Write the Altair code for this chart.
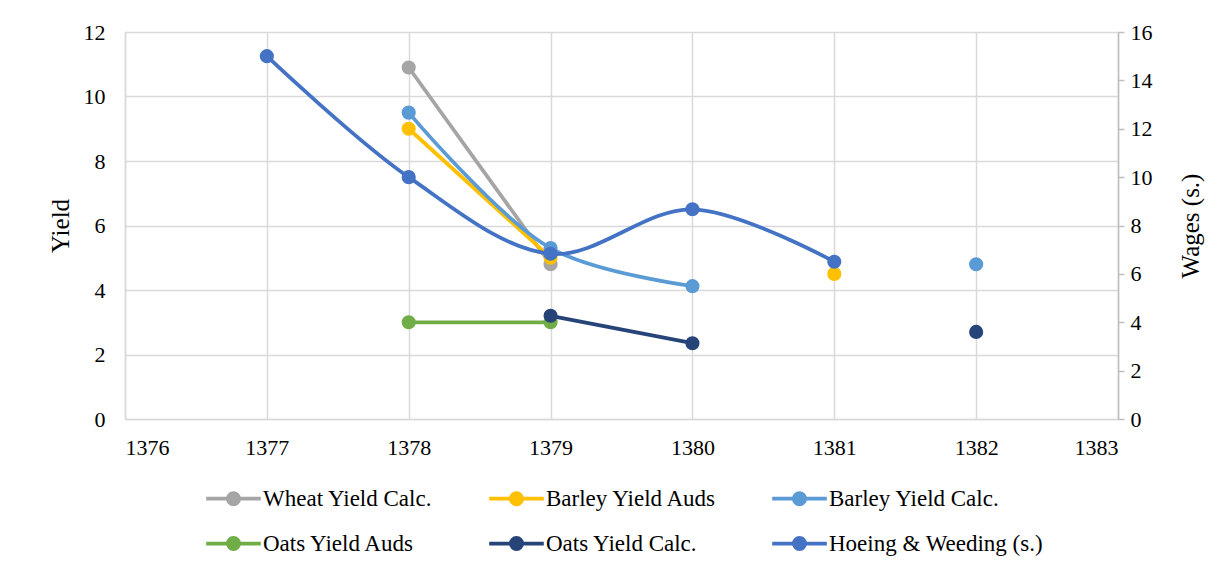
import altair as alt
import pandas as pd

years = [1377, 1378, 1379, 1380, 1381, 1382]
wheat_calc = [None, 10.9, 4.8, None, None, None]
barley_auds = [None, 9.0, 5.0, None, 4.5, None]
barley_calc = [None, 9.5, 5.3, 4.12, None, 4.8]
oats_auds = [None, 3.0, 3.0, None, None, None]
oats_calc = [None, None, 3.2, 2.35, None, 2.7]
hoeing_wages = [15.0, 10.0, 6.83, 8.67, 6.5, None]

series_names = ["Wheat Yield Calc.", "Barley Yield Auds", "Barley Yield Calc.",
                "Oats Yield Auds", "Oats Yield Calc.", "Hoeing & Weeding (s.)"]
series_colors = ["#A5A5A5", "#FFC000", "#5B9BD5", "#70AD47", "#264478", "#4472C4"]
x_ticks = [1376, 1377, 1378, 1379, 1380, 1381, 1382, 1383]
left_ticks = [0, 2, 4, 6, 8, 10, 12]
right_ticks = [0, 2, 4, 6, 8, 10, 12, 14, 16]

series_values = [wheat_calc, barley_auds, barley_calc, oats_auds, oats_calc, hoeing_wages]

rows = []
for name, vals in zip(series_names, series_values):
    seg = 0
    for yr, v in zip(years, vals):
        if v is None:
            seg += 1
            continue
        rows.append({"series": name, "year": yr, "value": v, "seg": f"{name}-{seg}",
                     "order": series_names.index(name)})
df = pd.DataFrame(rows)
left_df = df[df["series"] != "Hoeing & Weeding (s.)"]
right_df = df[df["series"] == "Hoeing & Weeding (s.)"]

FONT = "Liberation Serif"
sym_path = "M-3.9,0L3.9,0M-0.8,0A0.8,0.8,0,1,1,0.8,0A0.8,0.8,0,1,1,-0.8,0Z"

legend = alt.Legend(
    title=None, orient="none", legendX=97, legendY=455, columns=3,
    direction="horizontal", gridAlign="all", columnPadding=3, rowPadding=18,
    symbolType=sym_path, symbolSize=196, symbolStrokeWidth=3.75,
    labelFont=FONT, labelFontSize=23, labelColor="#000000", labelOffset=18,
    labelLimit=400, padding=0,
)
color = alt.Color("series:N", scale=alt.Scale(domain=series_names, range=series_colors),
                  legend=legend, sort=series_names)

x_enc = alt.X("year:Q", scale=alt.Scale(domain=[1376, 1383], nice=False, zero=False),
              axis=alt.Axis(values=x_ticks, format="d", title=None, grid=True,
                            gridColor="#D9D9D9", gridWidth=1.5, ticks=False,
                            domainColor="#D9D9D9", domainWidth=1.5,
                            labelFont=FONT, labelFontSize=22, labelColor="#000000",
                            labelPadding=18))

y_left = alt.Y("value:Q", scale=alt.Scale(domain=[0, 12], nice=False),
               axis=alt.Axis(values=left_ticks, title="Yield", orient="left", grid=True,
                             gridColor="#D9D9D9", gridWidth=1.5, ticks=False, tickSize=0,
                             domainColor="#D9D9D9", domainWidth=1.5,
                             labelFont=FONT, labelFontSize=22, labelColor="#000000",
                             labelPadding=20, titleFont=FONT, titleFontSize=25,
                             titleFontWeight="normal", titleColor="#000000",
                             titleX=-65, titleBaseline="middle"))

y_right = alt.Y("value:Q", scale=alt.Scale(domain=[0, 16], nice=False),
                axis=alt.Axis(values=right_ticks, title="Wages (s.)", orient="right", grid=False,
                              ticks=True, tickSize=6, tickColor="#BFBFBF", tickWidth=1.5,
                              domainColor="#BFBFBF", domainWidth=1.5,
                              labelFont=FONT, labelFontSize=22, labelColor="#000000",
                              labelPadding=6, titleFont=FONT, titleFontSize=25,
                              titleFontWeight="normal", titleColor="#000000",
                              titleAngle=270, titleX=72, titleBaseline="middle"))

left_lines = alt.Chart(left_df).mark_line(strokeWidth=3.75, interpolate="catmull-rom").encode(
    x=x_enc, y=y_left, color=color, detail="seg:N", order="order:Q")
left_points = alt.Chart(left_df).mark_point(filled=True, size=200, opacity=1).encode(
    x=x_enc, y=y_left, color=color)
right_lines = alt.Chart(right_df).mark_line(strokeWidth=3.75, interpolate="catmull-rom").encode(
    x=x_enc, y=y_right, color=color, detail="seg:N")
right_points = alt.Chart(right_df).mark_point(filled=True, size=200, opacity=1).encode(
    x=x_enc, y=y_right, color=color)

left = alt.layer(left_lines, left_points)
right = alt.layer(right_lines, right_points)

chart = alt.layer(left, right).resolve_scale(y="independent").properties(
    width=993, height=387,
    autosize=alt.AutoSizeParams(type="none"),
    padding={"left": 125, "top": 32, "right": 114, "bottom": 155},
    background="#FFFFFF",
).configure(font=FONT).configure_view(stroke=None).configure_axis(
    labelFont=FONT, titleFont=FONT).configure_legend(labelFont=FONT)

chart.save("out.html", embed_options={"renderer": "svg", "actions": False})
